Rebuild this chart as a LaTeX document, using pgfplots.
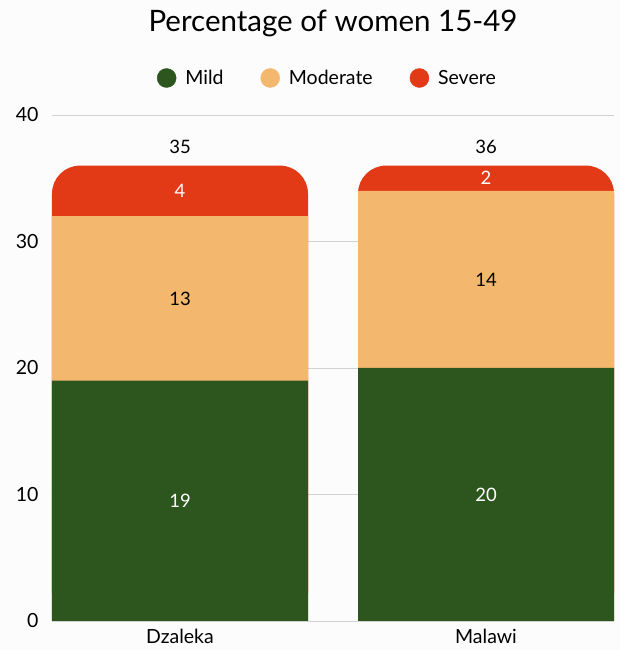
\documentclass[border=0pt]{standalone}
\usepackage{pgfplots}
\pgfplotsset{compat=1.18}
\usepackage{pgfplotstable}
\usepackage{fontspec}
\setmainfont{Lato}
\usetikzlibrary{backgrounds}
\definecolor{mildc}{HTML}{2D561E}
\definecolor{modc}{HTML}{F3B86D}
\definecolor{sevc}{HTML}{E23A16}
\definecolor{bgc}{HTML}{FCFCFC}
\definecolor{gridc}{HTML}{D2D2D2}

\pgfplotstableread{
x mild moderate severe total
0 19 13 4 35
1 20 14 2 36
}\data

\begin{document}
\begin{tikzpicture}[show background rectangle, inner frame sep=0pt,
  background rectangle/.style={fill=bgc, draw=none}]
\begin{axis}[
  scale only axis, width=562pt, height=506pt,
  xmin=-0.4183, xmax=1.4183, ymin=0, ymax=40,
  xtick={0,1}, xticklabels={Dzaleka,Malawi},
  ytick={0,10,20,30,40},
  /pgf/number format/assume math mode=true,
  ymajorgrids, grid style={gridc, line width=0.8pt},
  axis line style={draw=none},
  major tick length=0pt,
  yticklabel style={font=\fontsize{19.5}{22}\selectfont, xshift=-10pt},
  xticklabel style={font=\fontsize{19.5}{22}\selectfont, yshift=-5pt},
  title={Percentage of women 15-49},
  title style={font=\fontsize{29.5}{32}\selectfont, anchor=base, at={(0.5,1)}, yshift=77pt},
  legend style={at={(0.49,1)}, anchor=center, yshift=37pt, legend columns=3,
    draw=none, fill=none, font=\fontsize{19.5}{22}\selectfont,
    /tikz/every even column/.append style={column sep=35pt}},
  legend image code/.code={\fill[#1] (9.5pt,0pt) circle (9.5pt); \path (0pt,0pt) (26pt,0pt);},
]
\addlegendimage{mildc}
\addlegendentry{Mild}
\addlegendimage{modc}
\addlegendentry{Moderate}
\addlegendimage{sevc}
\addlegendentry{Severe}

% severe (full stack height, rounded top)
\addplot[ybar, bar width=0.8366, bar shift=0pt, fill=sevc, draw=none, rounded corners=28pt, forget plot]
  table[x=x, y expr=\thisrow{mild}+\thisrow{moderate}+\thisrow{severe}] \data;
% moderate
\addplot[ybar, bar width=0.8366, bar shift=0pt, fill=modc, draw=none, forget plot]
  table[x=x, y expr=\thisrow{mild}+\thisrow{moderate}] \data;
% mild
\addplot[ybar, bar width=0.8366, bar shift=0pt, fill=mildc, draw=none, forget plot]
  table[x=x, y=mild] \data;

% labels
\addplot[draw=none, mark=none, forget plot, nodes near coords, point meta=explicit symbolic,
  every node near coord/.style={anchor=center, text=white, font=\fontsize{18.5}{20}\selectfont}]
  table[x=x, y expr=\thisrow{mild}/2, meta=mild] \data;
\addplot[draw=none, mark=none, forget plot, nodes near coords, point meta=explicit symbolic,
  every node near coord/.style={anchor=center, text=black, font=\fontsize{18.5}{20}\selectfont}]
  table[x=x, y expr=\thisrow{mild}+\thisrow{moderate}/2, meta=moderate] \data;
\addplot[draw=none, mark=none, forget plot, nodes near coords, point meta=explicit symbolic,
  every node near coord/.style={anchor=center, text=white, font=\fontsize{18.5}{20}\selectfont}]
  table[x=x, y expr=\thisrow{mild}+\thisrow{moderate}+\thisrow{severe}/2, meta=severe] \data;
\addplot[draw=none, mark=none, forget plot, nodes near coords, point meta=explicit symbolic,
  every node near coord/.style={anchor=center, text=black, font=\fontsize{18.5}{20}\selectfont}]
  table[x=x, y expr=\thisrow{mild}+\thisrow{moderate}+\thisrow{severe}+1.5, meta=total] \data;
\end{axis}
\path (current axis.south west) ++(-52pt,-29pt) rectangle ++(620pt,650pt);
\end{tikzpicture}
\end{document}
